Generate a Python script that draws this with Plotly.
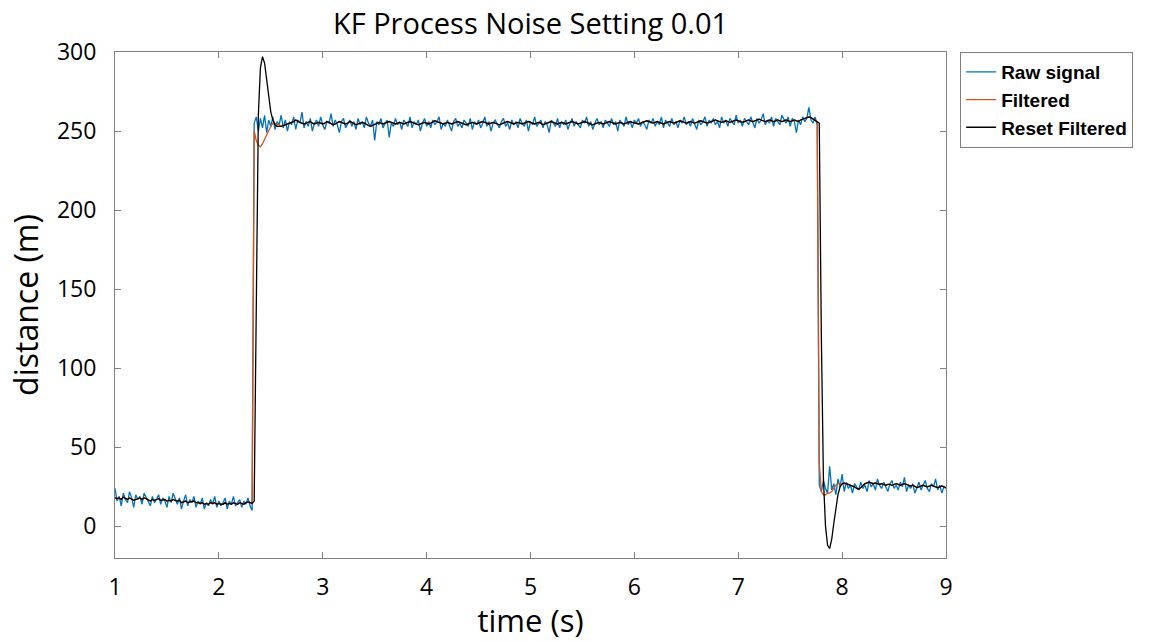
import plotly.graph_objects as go

DT = 0.02

# ---- Raw signal (sampled every 0.02 s) ----
raw_low_t0 = 1.00
raw_low = [24, 16, 19, 13, 21, 17, 15, 22, 18, 12,
           20, 17, 19, 14, 21, 18, 16, 13, 19, 15,
           17, 20, 14, 18, 16, 12, 19, 15, 21, 17,
           14, 18, 11, 16, 20, 13, 17, 15, 19, 12,
           16, 14, 18, 11, 15, 13, 17, 14, 19, 12,
           16, 13, 15, 18, 11, 16, 14, 19, 13, 15,
           17, 12, 16, 14, 18, 13, 10]

raw_high_t0 = 2.34
raw_high = [255, 259, 250, 258, 252, 260, 249, 257, 253, 259, 251, 256, 254, 260, 252, 257, 250,
            256, 254, 259, 251, 257, 255, 262, 252, 256, 253, 258, 250, 255, 257, 253, 259, 254,
            251, 256, 255, 261, 253, 257, 254, 249, 256, 258, 252, 255, 257, 253, 256, 251, 258,
            254, 256, 252, 259, 255, 253, 257, 244, 256, 254, 258, 252, 255, 257, 246, 255, 253,
            258, 254, 256, 251, 257, 255, 253, 259, 252, 256, 254, 257, 250, 255, 258, 253, 256,
            252, 257, 254, 256, 259, 251, 255, 253, 257, 254, 250, 256, 258, 253, 255, 252, 257,
            255, 253, 258, 251, 256, 254, 257, 252, 255, 259, 253, 256, 250, 255, 257, 254, 252,
            256, 258, 253, 255, 251, 257, 254, 256, 252, 258, 255, 253, 257, 250, 256, 254, 259,
            253, 255, 257, 252, 256, 254, 249, 257, 255, 253, 258, 252, 256, 254, 257, 251, 255,
            258, 253, 256, 254, 252, 257, 255, 259, 253, 256, 251, 255, 258, 254, 256, 252, 257,
            255, 253, 258, 254, 256, 250, 257, 255, 253, 259, 254, 256, 252, 257, 255, 258, 253,
            256, 254, 251, 257, 255, 258, 253, 256, 254, 259, 252, 257, 255, 253, 258, 254, 256,
            252, 257, 255, 259, 254, 256, 253, 258, 255, 251, 257, 254, 256, 259, 253, 257, 255,
            258, 254, 256, 252, 259, 255, 257, 253, 258, 256, 254, 260, 255, 257, 253, 258, 256,
            254, 259, 256, 252, 258, 255, 257, 261, 254, 257, 255, 259, 253, 258, 256, 254, 260,
            257, 255, 259, 253, 258, 256, 249, 257, 254, 259, 256, 258, 265, 257, 255, 259, 254]

raw_end_t0 = 7.78
raw_end = [26, 22, 29, 24, 21, 38, 23, 27, 20, 30,
           25, 33, 22, 28, 24, 26, 21, 27, 25, 23,
           28, 24, 26, 22, 29, 25, 27, 23, 30, 26,
           24, 28, 25, 22, 27, 29, 24, 26, 23, 28,
           25, 31, 22, 26, 24, 27, 21, 25, 28, 23,
           26, 29, 24, 22, 27, 25, 30, 23, 26, 21,
           25, 24]

# ---- Filter outputs (shared where both filters coincide) ----
smooth_low_t0 = 1.00
smooth_low = [18, 17.5, 18, 17, 18.5, 18, 17, 18, 17.5, 16.5,
              17, 17.5, 18, 17, 18, 17.5, 16.5, 16, 17, 16.5,
              17, 17.5, 16.5, 17, 17, 16, 16.5, 16, 17, 16.5,
              16, 16.5, 15, 15.5, 16, 15, 15.5, 15.5, 16, 15,
              15, 14.5, 15, 14, 14.5, 14, 15, 14.5, 15, 14,
              14.5, 14, 14, 15, 14, 14.5, 14, 15, 14.5, 14,
              15, 14.5, 14, 15, 15.5, 15, 14.5]

rise_t0 = 2.34
reset_rise = [16, 120, 260, 290, 297, 293, 282, 270, 262, 257, 254, 253, 253]
filtered_rise = [250, 244, 241, 240, 242, 245, 248, 251, 253, 255, 255, 254, 254]

smooth_high_t0 = 2.60
smooth_high = [253, 253.5, 254, 254.5, 255, 255, 256, 257, 256.5, 255.5, 255, 254.5, 255, 255.5, 256, 255, 254.5, 255, 255.5, 255,
               254.5, 255, 256, 255.5, 255, 254, 254.5, 255.5, 256, 255.5, 255, 254.5, 255, 256, 255.5, 254.5, 254, 254.5, 255, 255.5,
               255, 254, 253.5, 253, 253.5, 254.5, 255, 255.5, 255, 254.5, 255, 255.5, 256, 255.5, 255, 254.5, 255, 255.5, 255, 254.5,
               255, 255.5, 256, 255.5, 255, 254.5, 254, 254.5, 255, 255.5, 255, 254.5, 255, 256, 256.5, 256, 255.5, 255, 254.5, 255,
               255.5, 255, 254.5, 255, 255.5, 256, 255.5, 255, 254.5, 254, 254.5, 255, 255.5, 255, 254.5, 255, 255.5, 256, 255.5, 255,
               254.5, 255, 255.5, 255, 254.5, 254, 254.5, 255, 255.5, 256, 255.5, 255, 254.5, 255, 255.5, 255, 254.5, 255, 255.5, 256,
               255.5, 255, 254.5, 255, 255.5, 255, 254, 254.5, 255, 255.5, 256, 255.5, 255, 254.5, 255, 255.5, 255, 254.5, 255, 255.5,
               256, 255.5, 255, 254.5, 255, 255.5, 256, 255.5, 255, 254.5, 254, 254.5, 255, 255.5, 255, 254.5, 255, 255.5, 256, 255.5,
               255, 254.5, 255, 255.5, 255, 254.5, 255, 255.5, 256, 255.5, 255, 255, 254.5, 255, 255.5, 256, 256.5, 256, 255.5, 255,
               255.5, 256, 255.5, 255, 254.5, 255, 255.5, 256, 255.5, 255, 255.5, 256, 256.5, 256, 255.5, 255, 255.5, 256, 255.5, 255,
               255.5, 256, 256.5, 256, 255.5, 255, 255.5, 256, 256.5, 257, 256.5, 256, 255.5, 256, 256.5, 256, 255.5, 256, 256.5, 257,
               256.5, 256, 255.5, 256, 256.5, 257, 256.5, 256, 256.5, 257, 257.5, 257, 256.5, 256, 256.5, 257, 256.5, 256, 256.5, 257,
               256.5, 256, 256.5, 257, 256.5, 256, 256.5, 257, 256.5, 256, 257, 257.5, 258, 258.5, 259, 258.5, 257.5, 256.5, 256]

fall_t0 = 7.78
reset_fall = [255, 120, 30, 0, -12, -14, -8, 2, 12, 20, 25, 27, 27.5, 27]
filtered_fall = [40, 22, 20, 20, 21, 21, 22, 24, 26, 27, 27, 26.5, 27, 27]

smooth_end_t0 = 8.06
smooth_end = [26.5, 26, 25.5, 25, 24, 23.5, 24.5, 26, 27, 27.5, 28, 27.5, 27, 27.5, 27, 26.5, 27, 26.5, 26, 26.5,
              26.5, 26, 26.5, 27, 26.5, 26, 26.5, 27, 26.5, 26, 25.5, 26, 25, 24.5, 25, 25.5, 26, 25.5, 25, 25.5,
              26, 25.5, 25, 24.5, 25, 25.5, 25, 24.5]

x_ticks = [1, 2, 3, 4, 5, 6, 7, 8, 9]
y_ticks = [0, 50, 100, 150, 200, 250, 300]


def times(t0, vals):
    return [round(t0 + DT * k, 4) for k in range(len(vals))]


def series(*parts):
    xs, ys = [], []
    for t0, vals in parts:
        xs += times(t0, vals)
        ys += list(vals)
    return xs, ys


raw_x, raw_y = series((raw_low_t0, raw_low), (raw_high_t0, raw_high), (raw_end_t0, raw_end))
filt_x, filt_y = series((smooth_low_t0, smooth_low), (rise_t0, filtered_rise), (smooth_high_t0, smooth_high),
                        (fall_t0, filtered_fall), (smooth_end_t0, smooth_end))
reset_x, reset_y = series((smooth_low_t0, smooth_low), (rise_t0, reset_rise), (smooth_high_t0, smooth_high),
                          (fall_t0, reset_fall), (smooth_end_t0, smooth_end))

FONT = "Open Sans"
AXIS_GRAY = "#808080"

W, H = 1150, 641

fig = go.Figure()
fig.add_trace(go.Scatter(x=raw_x, y=raw_y, mode="lines", name="Raw signal",
                         line=dict(color="#0072BD", width=1.3)))
fig.add_trace(go.Scatter(x=filt_x, y=filt_y, mode="lines", name="Filtered",
                         line=dict(color="#D95319", width=1.3)))
fig.add_trace(go.Scatter(x=reset_x, y=reset_y, mode="lines", name="Reset Filtered",
                         line=dict(color="#000000", width=1.3)))

fig.update_layout(
    width=W, height=H,
    margin=dict(l=115, r=204, t=52, b=83, autoexpand=False),
    paper_bgcolor="white", plot_bgcolor="white",
    font=dict(family=FONT, color="black"),
    title=dict(text="KF Process Noise Setting 0.01", x=0.5, xref="paper", xanchor="center",
               y=1 - 24 / H, yref="container", yanchor="middle",
               font=dict(family=FONT, size=29, color="black")),
    showlegend=True,
    legend=dict(x=1.017, y=1.0, xanchor="left", yanchor="top",
                bordercolor=AXIS_GRAY, borderwidth=1, bgcolor="white",
                font=dict(family="Liberation Sans", size=19, color="black", weight="bold"),
                tracegroupgap=0, itemwidth=30),
    xaxis=dict(range=[1, 9], tickvals=x_ticks, ticks="inside", ticklen=6, tickcolor=AXIS_GRAY,
               showline=True, linecolor=AXIS_GRAY, linewidth=1, mirror="ticks",
               showgrid=False, zeroline=False, tickfont=dict(size=23),
               ticklabelstandoff=8,
               title=dict(text="time (s)", font=dict(size=31), standoff=3)),
    yaxis=dict(range=[-20, 300], tickvals=y_ticks, ticks="inside", ticklen=6, tickcolor=AXIS_GRAY,
               showline=True, linecolor=AXIS_GRAY, linewidth=1, mirror="ticks",
               showgrid=False, zeroline=False, tickfont=dict(size=23),
               ticklabelstandoff=13,
               title=dict(text="distance (m)", font=dict(size=32), standoff=8)),
)

# remove the default page margin so the figure fills the window exactly
fig.write_html("out.html",
               config={"displayModeBar": False},
               post_script="document.body.style.margin='0';document.body.style.overflow='hidden';")
